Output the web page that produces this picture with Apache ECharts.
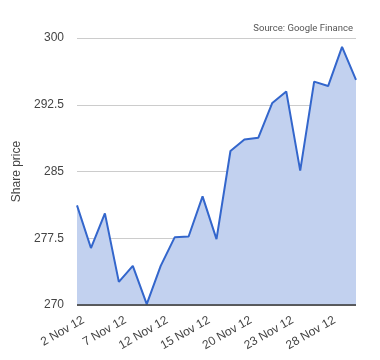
<!DOCTYPE html>
<html><head><meta charset="utf-8">
<script src="https://cdn.jsdelivr.net/npm/echarts@6/dist/echarts.min.js"></script>
<style>html,body{margin:0;padding:0;background:#fff}#c{width:380px;height:360px}</style>
</head><body><div id="c"></div>
<script>
const categories = ['2 Nov 12','5 Nov 12','6 Nov 12','7 Nov 12','8 Nov 12','9 Nov 12','12 Nov 12','13 Nov 12','14 Nov 12','15 Nov 12','16 Nov 12','19 Nov 12','20 Nov 12','21 Nov 12','22 Nov 12','23 Nov 12','26 Nov 12','27 Nov 12','28 Nov 12','29 Nov 12','30 Nov 12'];
const prices = [281.2,276.4,280.3,272.6,274.4,270.1,274.4,277.6,277.7,282.2,277.4,287.3,288.6,288.8,292.7,294.0,285.1,295.1,294.6,299.0,295.3];
const yTicks = [270, 277.5, 285, 292.5, 300];

const chart = echarts.init(document.getElementById('c'));
chart.setOption({
  animation: false,
  title: {
    text: 'Source: Google Finance',
    right: 22, top: 19,
    textStyle: {fontFamily: 'Roboto', fontSize: 9.5, fontWeight: 'normal', color: '#555'}
  },
  grid: {left: 77, right: 24, top: 38, bottom: 55},
  xAxis: {
    type: 'category', data: categories, boundaryGap: false,
    axisLine: {show: false}, axisTick: {show: false},
    axisLabel: {
      interval: 2, rotate: 30, color: '#444', fontFamily: 'Arial', fontSize: 12, margin: 11,
      verticalAlign: 'top', padding: [0, -4, 0, 0]
    }
  },
  yAxis: {
    type: 'value', min: yTicks[0], max: yTicks[yTicks.length-1], interval: 7.5,
    name: 'Share price', nameLocation: 'middle', nameGap: 53, nameRotate: 90,
    nameTextStyle: {color: '#444', fontFamily: 'Arial', fontSize: 12},
    axisLine: {show: false}, axisTick: {show: false},
    axisLabel: {color: '#444', fontFamily: 'Arial', fontSize: 12, margin: 13},
    splitLine: {lineStyle: {color: '#ccc', width: 1}}
  },
  series: [{
    type: 'line', data: prices, symbol: 'none',
    lineStyle: {color: '#3366cc', width: 2},
    areaStyle: {color: '#c2d1ef', opacity: 1, origin: 'start'},
    markLine: {
      silent: true, symbol: 'none', label: {show: false},
      lineStyle: {color: '#333', width: 1.5, type: 'solid'},
      data: [{yAxis: yTicks[0]}]
    }
  }]
});
</script></body></html>
